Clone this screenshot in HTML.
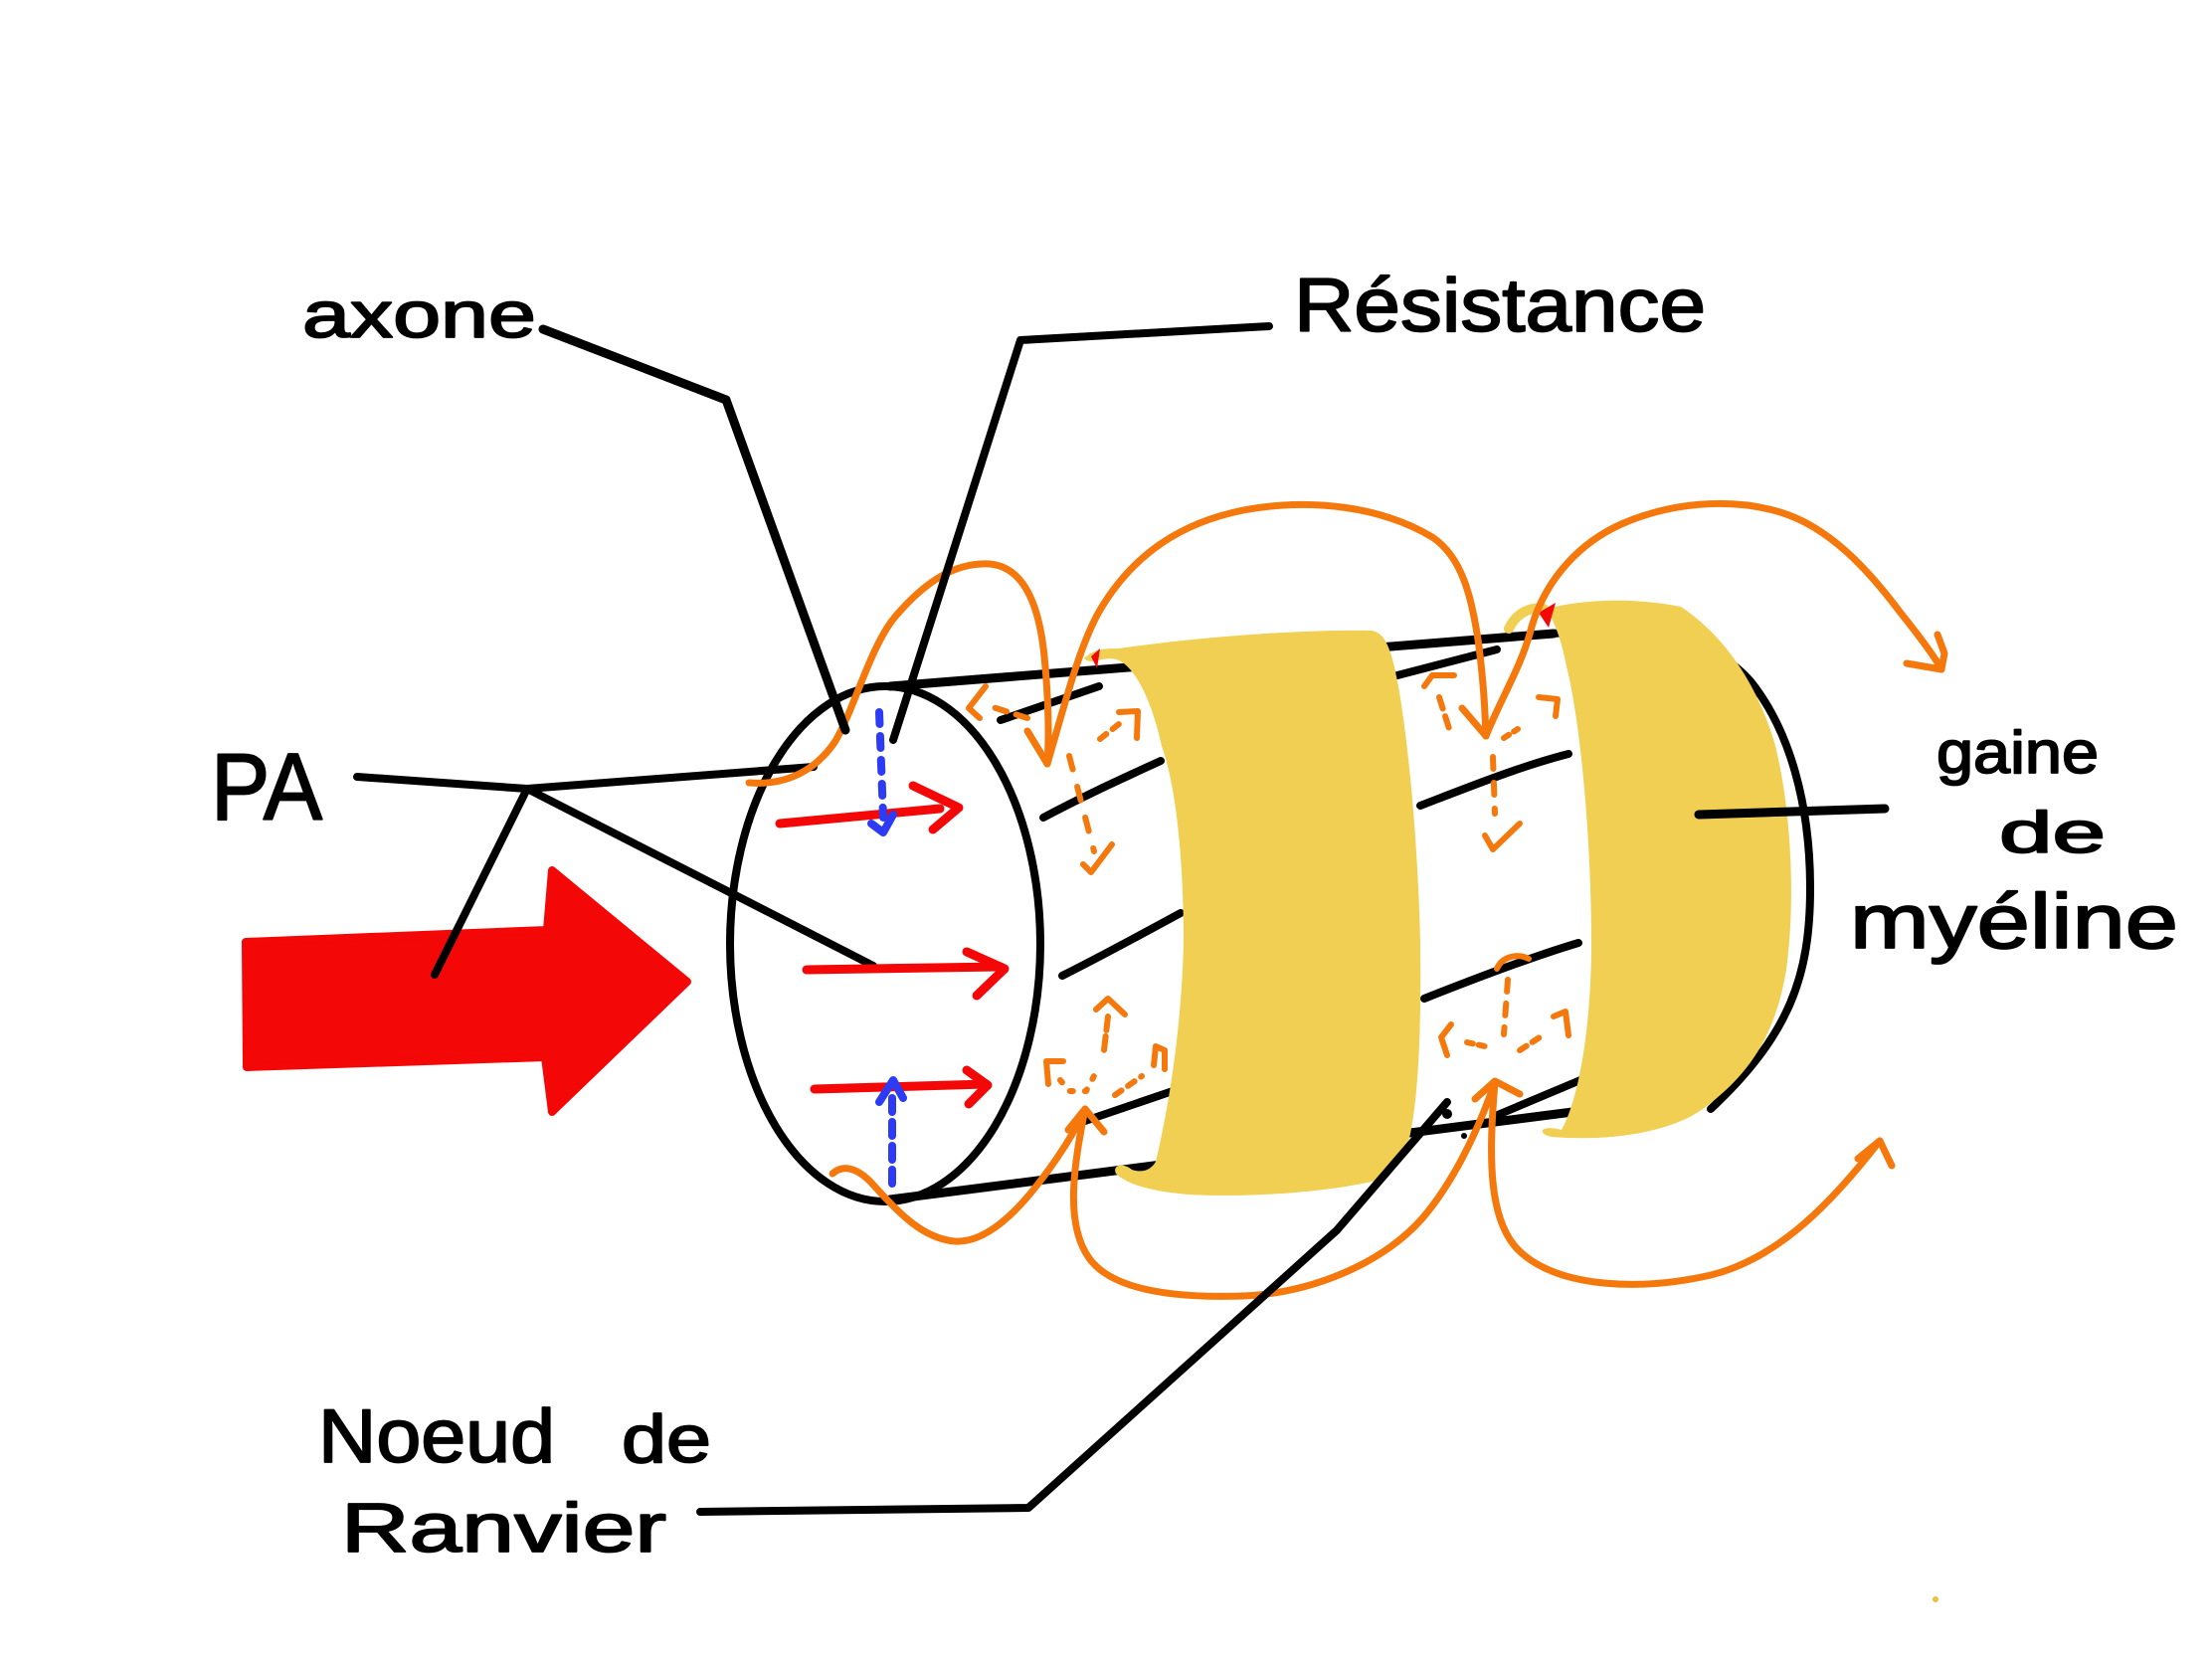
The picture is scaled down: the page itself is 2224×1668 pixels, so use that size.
<!DOCTYPE html>
<html>
<head>
<meta charset="utf-8">
<style>
html,body{margin:0;padding:0;background:#fff;}
svg{display:block;}
text{font-family:"Liberation Sans",sans-serif;fill:#000;stroke:#000;stroke-width:1.8;stroke-linejoin:round;}
</style>
</head>
<body>
<svg width="2224" height="1668" viewBox="0 0 2224 1668" xmlns="http://www.w3.org/2000/svg">
<rect width="2224" height="1668" fill="#fff"/>

<!-- Big red arrow -->
<path d="M247,947 L550,935 L555,875 L691,987 L555,1118 L548,1063 L248,1073 Z" fill="#F30707" stroke="#F30707" stroke-width="8" stroke-linejoin="round"/>

<!-- PA leaders -->
<g fill="none" stroke="#000" stroke-width="8" stroke-linecap="round" stroke-linejoin="round">
  <path d="M359,781 L530,793 L818,771"/>
  <path d="M530,793 L878,971"/>
  <path d="M530,793 L437,980"/>
</g>

<!-- Cylinder -->
<g fill="none" stroke="#000" stroke-linecap="round" stroke-linejoin="round">
  <ellipse cx="890" cy="949" rx="156" ry="259" stroke-width="8"/>
  <path d="M895,690 L1562,637" stroke-width="9"/>
  <path d="M895,1206 L1581,1118" stroke-width="9"/>
  <path d="M1560,637 C1660,630 1720,640 1760,685 C1800,735 1820,810 1820,893 C1820,980 1800,1040 1720,1115" stroke-width="8"/>
  <g stroke-width="8">
    <path d="M1006,724 L1105,690"/>
    <path d="M1049,822 C1090,800 1130,782 1167,765"/>
    <path d="M1068,981 C1110,960 1150,938 1187,918"/>
    <path d="M1091,1127 L1179,1097"/>
    <path d="M1405,679 L1505,653"/>
    <path d="M1428,810 C1480,790 1530,770 1577,758"/>
    <path d="M1432,1004 C1480,985 1540,962 1587,948"/>
    <path d="M1501,1123 L1589,1086"/>
  </g>
</g>

<!-- Yellow myelin bands -->
<path d="M1090,662 C1100,652 1112,652 1125,652 C1200,641 1300,633 1378,634 C1395,635 1400,660 1406,690 C1418,760 1426,860 1428,948 C1429,1040 1426,1100 1418,1140 C1412,1165 1402,1178 1388,1186 C1330,1200 1250,1204 1195,1201 C1160,1198 1135,1192 1122,1180 C1118,1172 1128,1168 1138,1176 C1150,1180 1158,1175 1162,1168 C1176,1110 1188,1030 1190,948 C1190,860 1182,790 1168,750 C1158,705 1142,672 1125,664 C1110,658 1098,670 1090,662 Z" fill="#F0CF52"/>
<path d="M1555,612 C1590,603 1640,600 1690,610 C1735,640 1768,690 1785,750 C1800,810 1806,900 1796,975 C1785,1040 1760,1080 1712,1115 C1680,1138 1620,1148 1560,1143 C1545,1140 1548,1130 1570,1136 C1590,1100 1600,1020 1600,950 C1600,850 1590,730 1575,670 C1570,645 1565,630 1555,612 Z" fill="#F0CF52"/>
<path d="M1517,632 C1525,615 1540,610 1552,612" fill="none" stroke="#F0CF52" stroke-width="10" stroke-linecap="round"/>
<polygon points="1547,616 1564,606 1557,631" fill="#F30707"/>
<polygon points="1097,660 1106,652 1103,672" fill="#F30707"/>

<!-- Red small arrows -->
<g fill="none" stroke="#F30707" stroke-width="9" stroke-linecap="round" stroke-linejoin="round">
  <path d="M784,828 L945,813"/>
  <path d="M918,790 L964,812 L938,834"/>
  <path d="M811,975 L1006,972"/>
  <path d="M972,957 L1010,974 L982,1001"/>
  <path d="M819,1095 L991,1090"/>
  <path d="M972,1076 L993,1091 L974,1110"/>
</g>

<!-- Blue dashed -->
<g fill="none" stroke="#2D3BF5" stroke-width="8" stroke-linecap="round" stroke-linejoin="round">
  <path d="M884,716 L888,822" stroke-dasharray="12 12"/>
  <path d="M876,828 L888,837 L898,819"/>
  <path d="M897,1190 L897,1100" stroke-dasharray="14 10"/>
  <path d="M884,1108 L898,1086 L908,1104"/>
</g>

<!-- Orange curves -->
<g fill="none" stroke="#F5780C" stroke-width="7" stroke-linecap="round" stroke-linejoin="round">
  <path d="M753,787 C790,790 820,775 840,745 C860,710 875,650 900,620 C930,585 960,565 995,567 C1030,570 1045,610 1050,660 C1054,700 1055,740 1053,768"/>
  <path d="M1033,735 L1053,768"/>
  <path d="M1053,768 C1070,710 1085,650 1105,615 C1140,555 1190,525 1250,513 C1320,500 1390,510 1440,540 C1470,560 1480,600 1487,650 C1492,690 1493,715 1494,740"/>
  <path d="M1470,712 L1494,740"/>
  <path d="M1494,740 C1510,700 1530,670 1540,630 C1555,580 1590,545 1630,527 C1680,505 1740,500 1790,515 C1840,530 1880,575 1910,615 C1930,640 1945,660 1952,673"/>
  <path d="M1917,667 L1952,673 L1955,657 L1948,638"/>

  <path d="M837,1180 C848,1170 862,1175 875,1188 C900,1215 925,1245 960,1248 C990,1250 1020,1220 1040,1195 C1060,1170 1080,1140 1091,1115"/>
  <path d="M1074,1136 L1091,1115 L1110,1138"/>
  <path d="M1091,1115 C1080,1170 1070,1230 1095,1265 C1120,1300 1190,1305 1250,1303 C1320,1300 1390,1270 1430,1225 C1460,1190 1485,1140 1503,1088"/>
  <path d="M1483,1105 L1503,1087 L1528,1100"/>
  <path d="M1503,1088 C1497,1160 1495,1230 1530,1260 C1570,1295 1650,1298 1720,1282 C1790,1265 1845,1205 1890,1147"/>
  <path d="M1868,1165 L1890,1147 L1902,1172"/>
</g>

<!-- Orange dashed small arrows -->
<g fill="none" stroke="#F5780C" stroke-width="6" stroke-linecap="round" stroke-linejoin="round">
  <path d="M1033,722 L995,710" stroke-dasharray="12 10"/>
  <path d="M991,690 L974,712 L985,722"/>
  <path d="M1106,743 L1130,724" stroke-dasharray="8 8"/>
  <path d="M1125,716 L1144,715 L1143,742"/>
  <path d="M1075,760 L1100,856" stroke-dasharray="14 18"/>
  <path d="M1089,869 L1097,877 L1118,849"/>
  <path d="M1432,690 L1440,679 L1462,679"/>
  <path d="M1447,701 L1459,739" stroke-dasharray="12 8"/>
  <path d="M1512,742 L1526,733" stroke-dasharray="6 6"/>
  <path d="M1547,701 L1566,703 L1564,720"/>
  <path d="M1501,761 L1503,818" stroke-dasharray="12 14"/>
  <path d="M1493,840 L1501,854 L1528,828"/>
  <path d="M1102,1015 L1114,1004 L1131,1020"/>
  <path d="M1114,1022 L1110,1056" stroke-dasharray="14 6"/>
  <path d="M1054,1090 L1052,1067 L1069,1067"/>
  <path d="M1066,1086 L1075,1097 L1092,1097 L1102,1078" stroke-dasharray="3 12"/>
  <path d="M1121,1101 L1148,1082" stroke-dasharray="8 8"/>
  <path d="M1160,1071 L1162,1052 L1171,1056 L1171,1075"/>
  <path d="M1505,974 C1510,962 1525,958 1537,964"/>
  <path d="M1516,985 L1512,1040" stroke-dasharray="12 12"/>
  <path d="M1459,1030 L1449,1043 L1455,1061"/>
  <path d="M1475,1048 L1493,1052" stroke-dasharray="6 6"/>
  <path d="M1528,1056 L1551,1041" stroke-dasharray="8 7"/>
  <path d="M1562,1022 L1574,1017 L1577,1041"/>
</g>

<!-- Other leaders -->
<g fill="none" stroke="#000" stroke-width="8" stroke-linecap="round" stroke-linejoin="round">
  <path d="M546,331 L730,402 L850,734" stroke-width="9"/>
  <path d="M1276,328 L1026,342 L898,744"/>
  <path d="M1708,819 L1895,813" stroke-width="9"/>
  <path d="M704,1520 L1034,1516 L1344,1237 L1455,1108"/>
</g>
<circle cx="1455" cy="1120" r="5" fill="#000"/>
<circle cx="1472" cy="1142" r="3" fill="#000"/>
<circle cx="1946" cy="1608" r="3" fill="#F0C040"/>

<!-- Labels -->
<text x="304" y="339" font-size="66" textLength="235" lengthAdjust="spacingAndGlyphs">axone</text>
<text x="1301" y="333" font-size="76" textLength="414" lengthAdjust="spacingAndGlyphs">Résistance</text>
<text x="212" y="824" font-size="96" textLength="112" lengthAdjust="spacingAndGlyphs">PA</text>
<text x="1947" y="777" font-size="60" textLength="163" lengthAdjust="spacingAndGlyphs">gaine</text>
<text x="2010" y="857" font-size="58" textLength="107" lengthAdjust="spacingAndGlyphs">de</text>
<text x="1860" y="953" font-size="78" textLength="330" lengthAdjust="spacingAndGlyphs">myéline</text>
<text x="320" y="1470" font-size="76" textLength="238" lengthAdjust="spacingAndGlyphs">Noeud</text>
<text x="625" y="1470" font-size="68" textLength="90" lengthAdjust="spacingAndGlyphs">de</text>
<text x="343" y="1560" font-size="70" textLength="327" lengthAdjust="spacingAndGlyphs">Ranvier</text>
</svg>
</body>
</html>
